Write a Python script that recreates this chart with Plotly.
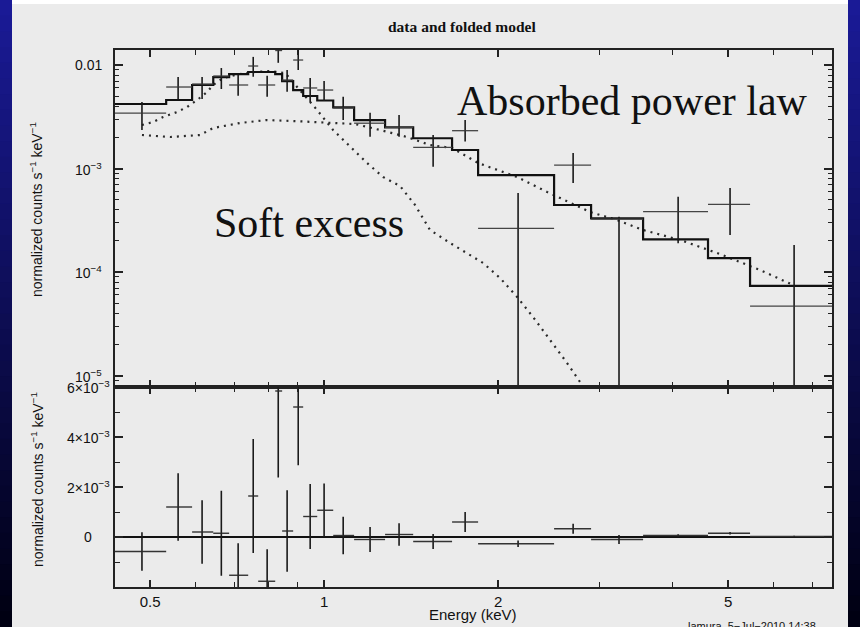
import math
import plotly.graph_objects as go

# ---------------- data ----------------
bin_edges = [0.4347, 0.533, 0.591, 0.643, 0.685, 0.739, 0.769, 0.823, 0.846, 0.884,
             0.920, 0.973, 1.037, 1.127, 1.275, 1.426, 1.665, 1.847, 2.500, 2.897,
             3.564, 4.616, 5.458, 7.60]
energy = [0.484, 0.559, 0.615, 0.664, 0.710, 0.754, 0.797, 0.833, 0.863, 0.902, 0.946,
          1.000, 1.079, 1.201, 1.348, 1.544, 1.754, 2.166, 2.697, 3.238, 4.098, 5.040, 6.505]
counts = [3.43e-3, 6.13e-3, 6.55e-3, 7.83e-3, 6.41e-3, 9.78e-3, 6.41e-3, 1.38e-2, 7.16e-3,
          1.117e-2, 6.0e-3, 5.73e-3, 3.84e-3, 2.74e-3, 2.5e-3, 1.60e-3, 2.32e-3, 2.64e-4,
          1.08e-3, 3.25e-4, 3.83e-4, 4.51e-4, 4.69e-5]
counts_err_up = [0.96e-3, 1.52e-3, 1.1e-3, 1.52e-3, 1.59e-3, 2.2e-3, 1.47e-3, 3.3e-3, 1.79e-3,
                 2.83e-3, 1.49e-3, 1.27e-3, 1.10e-3, 0.72e-3, 0.79e-3, 0.51e-3, 0.62e-3,
                 3.16e-4, 3.3e-4, 0.17e-4, 1.51e-4, 1.98e-4, 1.35e-4]
counts_err_dn = [1.08e-3, 1.54e-3, 1.86e-3, 1.97e-3, 1.36e-3, 2.08e-3, 1.47e-3, 3.3e-3, 1.64e-3,
                 2.22e-3, 1.61e-3, 1.24e-3, 0.90e-3, 0.71e-3, 0.47e-3, 0.56e-3, 0.50e-3,
                 3.16e-4, 3.56e-4, 3.3e-4, 1.93e-4, 2.23e-4, 1.35e-4]
model = [4.2e-3, 4.59e-3, 6.41e-3, 7.65e-3, 8.18e-3, 8.56e-3, 8.56e-3, 8.18e-3, 7.0e-3,
         5.73e-3, 5.02e-3, 4.54e-3, 3.9e-3, 2.94e-3, 2.5e-3, 1.96e-3, 1.51e-3, 8.65e-4,
         4.44e-4, 3.3e-4, 2.07e-4, 1.36e-4, 7.33e-5]

powerlaw_energy = [0.484, 0.5416, 0.6103, 0.6427, 0.7153, 0.7967, 0.8839, 1.0366, 1.1314,
                   1.25, 1.3916, 1.5251, 1.6648, 1.8467, 2.158, 2.4317, 2.8855, 3.2135,
                   3.564, 4.1302, 4.7863, 5.6793, 6.4791]
powerlaw_value = [2.107e-3, 2.015e-3, 2.107e-3, 2.461e-3, 2.752e-3, 2.941e-3, 2.876e-3,
                  2.752e-3, 2.69e-3, 2.355e-3, 2.015e-3, 1.686e-3, 1.578e-3, 1.13e-3,
                  8.28e-4, 5.93e-4, 3.8e-4, 3.18e-4, 2.546e-4, 2.04e-4, 1.527e-4,
                  1.045e-4, 7.49e-5]
softexcess_energy = [0.484, 0.506, 0.5266, 0.5567, 0.5794, 0.603, 0.6274, 0.6427, 0.6687,
                     0.7153, 0.7597, 0.8064, 0.856, 0.909, 0.9725, 1.0366, 1.1092, 1.1868,
                     1.265, 1.3533, 1.4369, 1.5251, 1.6519, 1.7674, 1.8842, 2.016, 2.158,
                     2.2993, 2.4604, 2.633, 2.7953, 3.0]
softexcess_value = [2.633e-3, 2.813e-3, 3.145e-3, 3.515e-3, 3.928e-3, 4.591e-3, 5.484e-3,
                    6.408e-3, 7.487e-3, 8.185e-3, 8.556e-3, 8.75e-3, 8.37e-3, 5.734e-3,
                    3.674e-3, 2.355e-3, 1.613e-3, 1.13e-3, 8.28e-4, 6.78e-4, 4.44e-4,
                    2.546e-4, 1.906e-4, 1.526e-4, 1.222e-4, 8.75e-5, 5.73e-5, 3.674e-5,
                    2.203e-5, 1.32e-5, 8.09e-6, 4.5e-6]

residual = [-0.58e-3, 1.2e-3, 0.2e-3, 0.15e-3, -1.53e-3, 1.64e-3, -1.77e-3, 5.84e-3, 0.24e-3,
            5.2e-3, 0.82e-3, 1.07e-3, 0.06e-3, -0.1e-3, 0.1e-3, -0.18e-3, 0.6e-3, -0.27e-3,
            0.33e-3, -0.1e-3, 0.06e-3, 0.15e-3, 0.02e-3]
residual_err = [0.77e-3, 1.35e-3, 1.27e-3, 1.7e-3, 1.28e-3, 2.28e-3, 1.28e-3, 3.46e-3, 1.63e-3,
                2.33e-3, 1.3e-3, 1.07e-3, 0.75e-3, 0.5e-3, 0.45e-3, 0.3e-3, 0.4e-3, 0.13e-3,
                0.2e-3, 0.18e-3, 0.05e-3, 0.05e-3, 0.03e-3]

x_major_ticks = [0.5, 1, 2, 5]
x_major_labels = ["0.5", "1", "2", "5"]
x_minor_ticks = [0.6, 0.7, 0.8, 0.9, 3, 4, 6, 7]
y_top_ticks = [1e-5, 1e-4, 1e-3, 1e-2]
y_top_labels = ["10<sup>−5</sup>", "10<sup>−4</sup>", "10<sup>−3</sup>", "0.01"]
y_top_minor = [m * 10.0 ** k for k in range(-6, -1) for m in range(2, 10)]
y_bot_ticks = [0, 2e-3, 4e-3, 6e-3]
y_bot_labels = ["0", "2×10<sup>−3</sup>", "4×10<sup>−3</sup>", "6×10<sup>−3</sup>"]
y_bot_minor = [-1e-3, 1e-3, 3e-3, 5e-3]

# ---------------- geometry (pixels) ----------------
W, H = 860, 627
L, R, T, B = 115, 832, 50, 587
SPLIT = 387
PW, PH = R - L, B - T


def px_x(px):
    return (px - L) / PW


def px_y(py):
    return (B - py) / PH


bot_frac = (B - SPLIT) / PH

bin_lo = bin_edges[:-1]
bin_hi = bin_edges[1:]
ex_plus = [h - e for h, e in zip(bin_hi, energy)]
ex_minus = [e - l for l, e in zip(bin_lo, energy)]

INK = "#1a1a1a"
SANS = "Liberation Sans, Arial, Helvetica, sans-serif"
SERIF = "Liberation Serif, Times New Roman, serif"

fig = go.Figure()

# model components (dotted)
fig.add_trace(go.Scatter(x=powerlaw_energy, y=powerlaw_value, mode="lines",
                         line=dict(color="#2a2a2a", width=2.2, dash="2px,5px"),
                         xaxis="x", yaxis="y", showlegend=False))
fig.add_trace(go.Scatter(x=softexcess_energy, y=softexcess_value, mode="lines",
                         line=dict(color="#2a2a2a", width=2.2, dash="2px,5px"),
                         xaxis="x", yaxis="y", showlegend=False))
# total folded model (histogram)
fig.add_trace(go.Scatter(x=bin_edges, y=model + [model[-1]], mode="lines",
                         line=dict(color="#111111", width=2.2, shape="hv"),
                         xaxis="x", yaxis="y", showlegend=False))
# data
fig.add_trace(go.Scatter(
    x=energy, y=counts, mode="markers",
    marker=dict(size=1, color=INK),
    error_x=dict(type="data", symmetric=False, array=ex_plus, arrayminus=ex_minus,
                 color="#444444", thickness=1.3, width=0),
    error_y=dict(type="data", symmetric=False, array=counts_err_up, arrayminus=counts_err_dn,
                 color=INK, thickness=1.6, width=0),
    xaxis="x", yaxis="y", showlegend=False))
# residuals
fig.add_trace(go.Scatter(
    x=energy, y=residual, mode="markers",
    marker=dict(size=1, color=INK),
    error_x=dict(type="data", symmetric=False, array=ex_plus, arrayminus=ex_minus,
                 color="#333333", thickness=1.4, width=0),
    error_y=dict(type="data", array=residual_err, color=INK, thickness=1.6, width=0),
    xaxis="x2", yaxis="y2", showlegend=False))

xrange = [math.log10(bin_edges[0]), math.log10(7.565)]
axis_common = dict(showline=True, linecolor="#222222", linewidth=2, mirror="ticks",
                   ticks="inside", tickcolor="#222222", tickwidth=1.5, showgrid=False,
                   zeroline=False)

fig.update_layout(
    width=W, height=H,
    margin=dict(l=L, r=W - R, t=T, b=H - B),
    paper_bgcolor="#ebebeb", plot_bgcolor="#ebebeb",
    font=dict(family=SANS, color="#111111"),
    xaxis=dict(anchor="y", domain=[0, 1], type="log", range=xrange,
               tickmode="array", tickvals=x_major_ticks, showticklabels=False, ticklen=7,
               minor=dict(tickmode="array", tickvals=x_minor_ticks, ticks="inside", ticklen=5,
                          tickwidth=1.2, tickcolor="#222222", showgrid=False),
               **axis_common),
    yaxis=dict(anchor="x", domain=[bot_frac, 1], type="log", range=[-5.111, -1.855],
               tickmode="array", tickvals=y_top_ticks, showticklabels=False, ticklen=8,
               minor=dict(tickmode="array", tickvals=y_top_minor, ticks="inside", ticklen=4,
                          tickwidth=1.2, tickcolor="#222222", showgrid=False),
               **axis_common),
    xaxis2=dict(anchor="y2", domain=[0, 1], type="log", range=xrange, matches="x",
                tickmode="array", tickvals=x_major_ticks, ticktext=x_major_labels,
                showticklabels=True, ticklen=7, ticklabelstandoff=0,
                tickfont=dict(size=15, family=SANS, color="#111111"),
                minor=dict(tickmode="array", tickvals=x_minor_ticks, ticks="inside", ticklen=5,
                           tickwidth=1.2, tickcolor="#222222", showgrid=False),
                **axis_common),
    yaxis2=dict(anchor="x2", domain=[0, bot_frac], range=[-2e-3, 6e-3],
                tickmode="array", tickvals=y_bot_ticks, showticklabels=False, ticklen=8,
                minor=dict(tickmode="array", tickvals=y_bot_minor, ticks="inside", ticklen=5,
                           tickwidth=1.2, tickcolor="#222222", showgrid=False),
                showline=True, linecolor="#222222", linewidth=2, mirror="ticks",
                ticks="inside", tickcolor="#222222", tickwidth=1.5, showgrid=False,
                zeroline=True, zerolinecolor="#111111", zerolinewidth=2.4),
)

# ---------------- frame: blue gradient strips ----------------
shapes = []
n_bands = 40
top_rgb = (26, 26, 150)
bot_rgb = (0, 0, 18)
for i in range(n_bands):
    t = i / (n_bands - 1)
    c = tuple(int(round(a + (b - a) * t)) for a, b in zip(top_rgb, bot_rgb))
    y0 = i * H / n_bands
    y1 = (i + 1) * H / n_bands + 1
    for xa, xb in ((0, 12), (848, W)):
        shapes.append(dict(type="rect", xref="paper", yref="paper", layer="below",
                           x0=px_x(xa), x1=px_x(xb), y0=px_y(y1), y1=px_y(y0),
                           fillcolor="rgb(%d,%d,%d)" % c, line=dict(width=0)))
shapes.append(dict(type="rect", xref="paper", yref="paper", layer="below",
                   x0=px_x(12), x1=px_x(848), y0=px_y(4), y1=px_y(0),
                   fillcolor="#ffffff", line=dict(width=0)))
fig.update_layout(shapes=shapes)

# ---------------- text ----------------
ann = []
label_x = px_x(88)
for v, txt in zip(y_top_ticks, y_top_labels):
    ann.append(dict(x=label_x, y=math.log10(v), xref="paper", yref="y", text=txt,
                    showarrow=False, xanchor="center", yanchor="middle",
                    font=dict(size=14, family=SANS, color="#111111")))
for v, txt in zip(y_bot_ticks, y_bot_labels):
    ann.append(dict(x=label_x, y=v, xref="paper", yref="y2", text=txt,
                    showarrow=False, xanchor="center", yanchor="middle",
                    font=dict(size=14, family=SANS, color="#111111")))

ytitle = "normalized counts s<sup>−1</sup> keV<sup>−1</sup>"
ann.append(dict(x=px_x(36), y=px_y(210), xref="paper", yref="paper", text=ytitle,
                textangle=-90, showarrow=False, xanchor="center", yanchor="middle",
                font=dict(size=14, family=SANS, color="#111111")))
ann.append(dict(x=px_x(37), y=px_y(480), xref="paper", yref="paper", text=ytitle,
                textangle=-90, showarrow=False, xanchor="center", yanchor="middle",
                font=dict(size=14, family=SANS, color="#111111")))
ann.append(dict(x=px_x(473), y=px_y(614), xref="paper", yref="paper", text="Energy (keV)",
                showarrow=False, xanchor="center", yanchor="middle",
                font=dict(size=15, family=SANS, color="#111111")))
ann.append(dict(x=px_x(462), y=px_y(26), xref="paper", yref="paper",
                text="<b>data and folded model</b>",
                showarrow=False, xanchor="center", yanchor="middle",
                font=dict(size=15.5, family=SERIF, color="#111111")))
ann.append(dict(x=px_x(455), y=px_y(101), xref="paper", yref="paper",
                text="Absorbed power law", showarrow=False, xanchor="left", yanchor="middle",
                font=dict(size=42, family=SERIF, color="#111111")))
ann.append(dict(x=px_x(212), y=px_y(223), xref="paper", yref="paper",
                text="Soft excess", showarrow=False, xanchor="left", yanchor="middle",
                font=dict(size=42, family=SERIF, color="#111111")))
ann.append(dict(x=px_x(752), y=px_y(618), xref="paper", yref="paper",
                text="lamura  5−Jul−2010 14:38", showarrow=False, xanchor="center",
                yanchor="top", font=dict(size=11, family=SANS, color="#111111")))
fig.update_layout(annotations=ann)

fig.write_html("out.html")
